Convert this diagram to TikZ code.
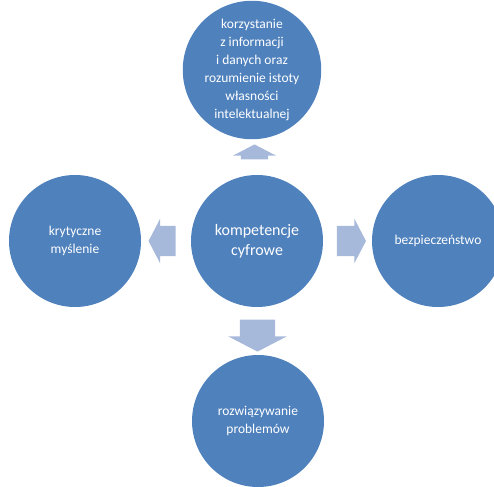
\documentclass[tikz,border=0pt]{standalone}
\usepackage{fontspec}
\setmainfont{Carlito}
\usetikzlibrary{shapes.arrows, calc}

\definecolor{topicblue}{HTML}{4F81BD}
\definecolor{pointerblue}{HTML}{A7B9DA}

\begin{document}
\begin{tikzpicture}[
        x=1pt, y=-1pt,
    Topic/.style={circle, fill=topicblue, minimum size=132pt, inner sep=0pt,
                  text=white, align=center,
                  font=\fontsize{13.5}{18}\selectfont},
  Pointer/.style={single arrow, fill=pointerblue, inner xsep=0pt,
                  single arrow head indent=0pt, single arrow tip angle=125},
  ]
\useasboundingbox (0,0) rectangle (494,486);
% circles
\node [Topic, font=\fontsize{16}{19.5}\selectfont] (hub) at (257,241) {kompetencje\\cyfrowe};
\node [Topic] (info)     at (252,70)  {korzystanie\\z informacji\\i danych oraz\\rozumienie istoty\\własności\\intelektualnej};
\node [Topic] (krytyka)  at (75,241)  {krytyczne\\myślenie};
\node [Topic] (bezp)     at (438,241) {bezpieczeństwo};
\node [Topic] (problemy) at (258,421) {rozwiązywanie\\problemów};
% block arrows
\node [Pointer, rotate=90,  minimum height=15pt, inner ysep=13.5pt,
       single arrow head extend=8pt]  (upArr)    at ($(hub)!0.5!(info)$) {};
\node [Pointer, rotate=-90, minimum height=32pt, inner ysep=17.5pt,
       single arrow head extend=11.5pt] (downArr) at ($(hub)!0.5!(problemy)$) {};
\node [Pointer, rotate=180, minimum height=27pt, inner ysep=15pt,
       single arrow head extend=7pt]  (leftArr)  at ($(hub)!0.5!(krytyka)$) {};
\node [Pointer, minimum height=29pt, inner ysep=15pt,
       single arrow head extend=7pt]  (rightArr) at ($(hub)!0.5!(bezp)$) {};
\end{tikzpicture}
\end{document}
